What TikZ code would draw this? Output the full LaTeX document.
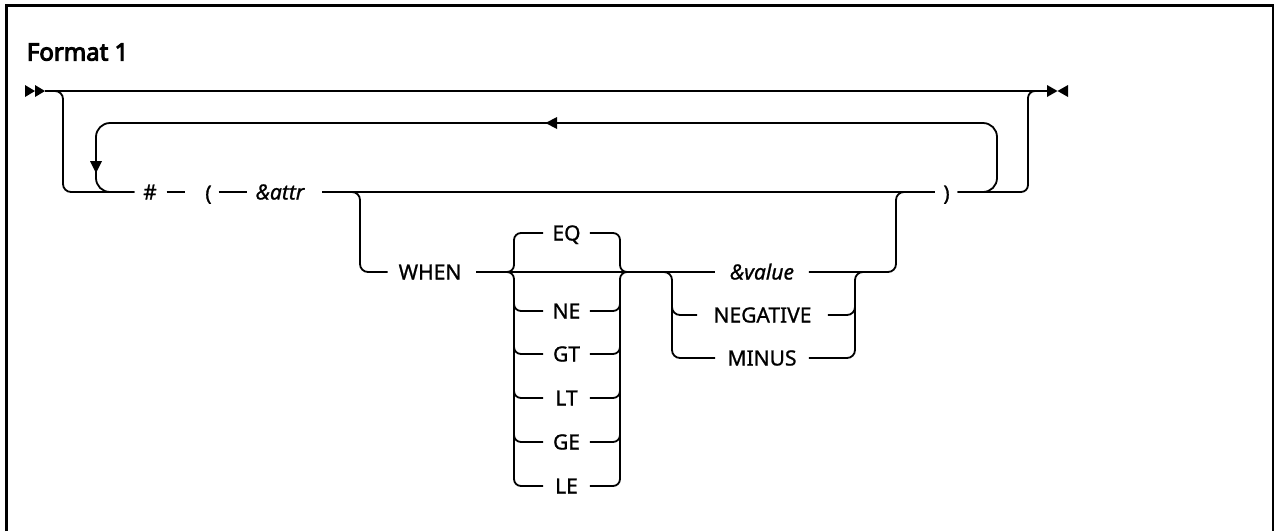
\documentclass[tikz,border=0pt]{standalone}
\usepackage{fontspec}
\setmainfont{Noto Sans}[FakeBold=1.0]
\newfontfamily\titlefont{Noto Sans}[FakeBold=4.2]
\begin{document}
\begin{tikzpicture}[x=1pt,y=-1pt, line width=1.8pt,
  kw/.style={font=\fontsize{21}{25}\selectfont, text height=15pt, text depth=0pt, inner ysep=0pt, inner xsep=0pt},
  var/.style={kw, font=\fontsize{21}{25}\selectfont\itshape},
  opt/.style={kw, minimum width=45pt},
  valbox/.style={minimum width=92pt},
  tipfill/.style={fill=black, draw=none},
  frame/.style={line width=2.5pt}]
\useasboundingbox (0,0) rectangle (1274,531);
\draw[frame] (6.5,531) -- (6.5,5.3) -- (1272.8,5.3) -- (1272.8,531);
\node[anchor=base west, font=\titlefont\fontsize{24}{28}\selectfont, inner sep=0pt] (title) at (26,60.5) {Format 1};

% coordinates
\coordinate (startpt) at (45,91);
\coordinate (endpt) at (1047,91);
\coordinate (wsplit) at (350,192);
\coordinate (wjoin) at (910,192);
\coordinate (cl) at (505,272);
\coordinate (cr) at (629,272);
\coordinate (lv) at (514,0);
\coordinate (rv) at (620,0);
\coordinate (vsplit) at (662,272);
\coordinate (vjoin) at (866,272);
\coordinate (vl) at (672,0);
\coordinate (vr) at (855,0);

% text nodes
\node[kw] (hash) at (150,192) {\#};
\node[kw] (lpar) at (208.5,193) {(};
\node[var] (attr) at (280,192) {\&attr};
\node[kw] (rpar) at (946.5,193) {)};
\node[kw] (when) at (430,272) {WHEN};
\node[opt] (eq) at (566.5,233) {EQ};
\node[opt] (ne) at (566.5,311) {NE};
\node[opt] (gt) at (566.5,354) {GT};
\node[opt] (lt) at (566.5,398) {LT};
\node[opt] (ge) at (566.5,442) {GE};
\node[opt] (le) at (566.5,486) {LE};
\node[var, valbox] (value) at (762,272) {\&value};
\node[kw, minimum width=129pt] (neg) at (762.5,315) {NEGATIVE};
\node[kw, valbox] (minus) at (762,358) {MINUS};

% start / end marks
\fill[tipfill] (25,85) -- (35,91) -- (25,97) -- cycle;
\fill[tipfill] (35,85) -- (startpt) -- (35,97) -- cycle;
\fill[tipfill] (endpt) ++(0,-6) -- (1057.5,91) -- (1047,97) -- cycle;
\fill[tipfill] (1068,85) -- (1057.5,91) -- (1068,97) -- cycle;

% main lines
\draw (startpt) -- (endpt);
\draw[rounded corners=8] (startpt) -- (63,91) -- (63,192) -- ([xshift=-8pt]hash.west);
\draw ([xshift=9pt]hash.east) -- ([xshift=-19pt]lpar.west |- hash.east);
\draw ([xshift=6pt]lpar.east |- hash.east) -- ([xshift=-8pt]attr.west);
\draw ([xshift=17pt]attr.east) -- ([xshift=-7pt]rpar.west |- attr.east);
\draw[rounded corners=7] ([xshift=7pt]rpar.east |- attr.east) -- (1028,192) -- (1028,91) -- (endpt);

% repeat loop
\draw[rounded corners=14] ([xshift=7pt]rpar.east |- attr.east) -- (997,192) -- (997,123) -- (96,123) -- (96,192) -- ([xshift=-8pt]hash.west);
\fill[tipfill] (545.5,123) -- (557,117) -- (557,129) -- cycle;
\fill[tipfill] (96,173) -- (90,161) -- (102,161) -- cycle;

% WHEN branch
\draw[rounded corners=8] (wsplit) -- (360,192) -- (360,272) -- ([xshift=-10pt]when.west);
\draw ([xshift=14pt]when.east) -- (value.west);

% operator choice
\draw[rounded corners=7] (cl) -- (cl -| lv) -- (eq.west -| lv) -- (eq.west);
\draw[rounded corners=7] (eq.east) -- (eq.east -| rv) -- (cr -| rv) -- (cr);
\draw[rounded corners=7] (cl) -- (cl -| lv) -- (le.west -| lv) -- (le.west);
\draw[rounded corners=7] (le.east) -- (le.east -| rv) -- (cr -| rv) -- (cr);
\foreach \n in {ne,gt,lt,ge}{
  \draw[rounded corners=7] (\n.west -| lv) ++(0,-14) -- ++(0,14) -- (\n.west);
  \draw[rounded corners=7] (\n.east) -- (\n.east -| rv) -- ++(0,-14);
}

% value choice
\draw[rounded corners=8] (vsplit) -- (vsplit -| vl) -- (minus.west -| vl) -- (minus.west);
\draw[rounded corners=8] (neg.west -| vl) ++(0,-14) -- ++(0,14) -- (neg.west);
\draw[rounded corners=8] (minus.east) -- (minus.east -| vr) -- (vjoin -| vr) -- (vjoin);
\draw[rounded corners=8] (neg.east) -- (neg.east -| vr) -- ++(0,-14);
\draw[rounded corners=8] (value.east) -- (896,272) -- (896,192) -- (wjoin);
\end{tikzpicture}
\end{document}
